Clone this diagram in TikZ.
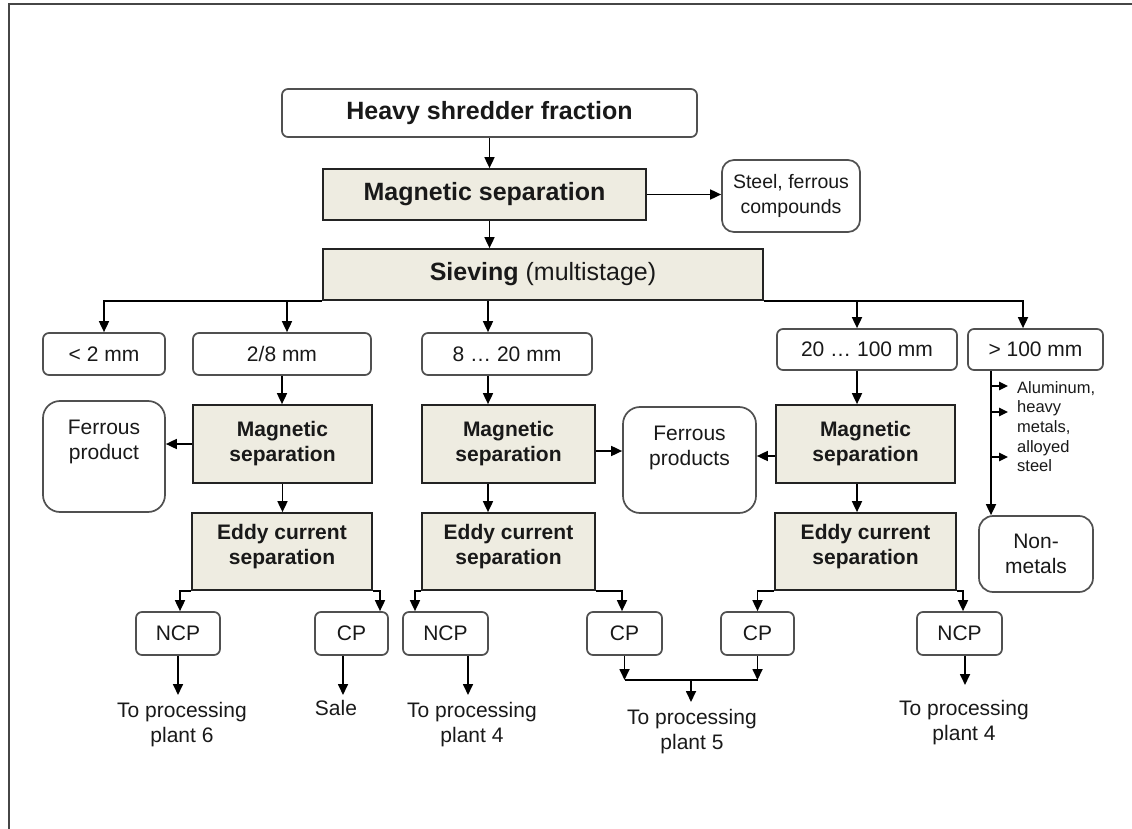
\documentclass[tikz,border=0pt]{standalone}
\usepackage{fontspec}
\setmainfont{Liberation Sans}
\usetikzlibrary{arrows.meta}
\definecolor{panel}{RGB}{238,236,225}
\definecolor{boxline}{RGB}{35,35,35}
\definecolor{roundline}{RGB}{80,80,80}
\definecolor{ink}{RGB}{25,25,25}
\definecolor{framegray}{RGB}{70,70,70}

\begin{document}
\begin{tikzpicture}[x=1pt,y=-1pt,
  rbox/.style={draw=roundline, line width=1.7pt, rounded corners=6pt, fill=white,
               inner sep=0pt, text=ink, align=center},
  pbox/.style={draw=boxline, line width=1.7pt, fill=panel, inner sep=0pt,
               text=ink, align=center},
  bigb/.style={font=\fontsize{25}{29}\selectfont\bfseries},
  med/.style={font=\fontsize{21}{25}\selectfont},
  medb/.style={font=\fontsize{21}{25}\selectfont\bfseries},
  small/.style={font=\fontsize{16.5}{19.7}\selectfont},
  wh/.style n args={2}{minimum width=#1pt, minimum height=#2pt},
  flow/.style={draw=black, line width=1.7pt, -{Triangle[length=11pt,width=10pt]}},
  plain/.style={draw=black, line width=1.7pt},
  flowsm/.style={draw=black, line width=1.5pt, -{Triangle[length=9pt,width=8.5pt]}},
  note/.style={inner sep=0pt, text=ink, align=center},
]
\useasboundingbox (0,0) rectangle (1132,829);

% page frame (top and left edges)
\draw[framegray, line width=1.5pt] (9,829) -- (9,4) -- (1132,4);

% main line
\node[rbox, bigb, wh={415}{48}] (heavy) at (489.5,113) {Heavy shredder fraction};
\node[pbox, bigb, wh={323}{51}] (magA) at (484.5,194.5) {Magnetic separation};
\node[rbox, wh={138}{72}, rounded corners=12pt, font=\fontsize{19.5}{25}\selectfont] (steel) at (791,196) {Steel, ferrous\\compounds};
\node[pbox, wh={440}{51}, font=\fontsize{25}{29}\selectfont] (sieve) at (543,274.5) {\textbf{Sieving} (multistage)};

% size classes
\node[rbox, med, wh={122}{42}] (lt2) at (104,354) {< 2 mm};
\node[rbox, med, wh={178}{42}] (c28) at (282,354) {2/8 mm};
\node[rbox, med, wh={170}{42}] (c820) at (507,354) {8 … 20 mm};
\node[rbox, med, wh={180}{41}] (c20) at (867,349.5) {20 … 100 mm};
\node[rbox, med, wh={135}{41}] (c100) at (1035.5,349.5) {> 100 mm};

% magnetic stage
\node[pbox, medb, wh={179}{78}] (mag1) at (282.5,444) {Magnetic\\separation};
\node[pbox, medb, wh={173}{78}] (mag2) at (508.5,444) {Magnetic\\separation};
\node[pbox, medb, wh={179}{78}] (mag3) at (865.5,444) {Magnetic\\separation};

\node[rbox, wh={122}{111}, rounded corners=17pt] (fe1) at (104,456.5) {};
\node[note, med, anchor=north] (fe1t) at (104,419.5) {Ferrous\\product};
\node[rbox, wh={133}{106}, rounded corners=17pt] (fe2) at (689.5,460) {};
\node[note, med, anchor=north] (fe2t) at (689.5,425.5) {Ferrous\\products};

% eddy current stage
\node[pbox, medb, wh={180}{77}] (ed1) at (282,551.5) {Eddy current\\separation\\[-10pt]};
\node[pbox, medb, wh={173}{77}] (ed2) at (508.5,551.5) {Eddy current\\separation\\[-10pt]};
\node[pbox, medb, wh={181}{77}] (ed3) at (865.5,551.5) {Eddy current\\separation\\[-10pt]};

\node[rbox, med, wh={114}{76}, rounded corners=14pt] (nonmet) at (1036,554) {Non-\\metals};
\node[note, small, align=left, anchor=north west] (metals) at (1017,381) {Aluminum,\\heavy\\metals,\\alloyed\\steel};

% products
\node[rbox, med, wh={84}{43}] (ncp1) at (178,633.5) {NCP};
\node[rbox, med, wh={73}{43}] (cp1) at (351.5,633.5) {CP};
\node[rbox, med, wh={85}{43}] (ncp2) at (445.5,633.5) {NCP};
\node[rbox, med, wh={75}{43}] (cp2) at (624.5,633.5) {CP};
\node[rbox, med, wh={73}{43}] (cp3) at (757.5,633.5) {CP};
\node[rbox, med, wh={85}{43}] (ncp3) at (959.5,633.5) {NCP};

\node[note, med, anchor=north] (out1) at (182,702) {To processing\\plant 6};
\node[note, med, anchor=north] (sale) at (336,700.5) {Sale};
\node[note, med, anchor=north] (out2) at (472,702) {To processing\\plant 4};
\node[note, med, anchor=north] (out3) at (692,709.5) {To processing\\plant 5};
\node[note, med, anchor=north] (out4) at (964,700.5) {To processing\\plant 4};

% --- connectors ---
\draw[flow] (heavy.south) -- (heavy.south |- magA.north);
\draw[flow] (magA.south -| heavy.south) -- (heavy.south |- sieve.north);
\draw[flow] (magA.east) -- (magA.east -| steel.west);

% sieve outputs
\coordinate (k1) at (lt2.north);
\coordinate (k2) at ([xshift=5pt]c28.north);
\coordinate (k3) at ([xshift=-19pt]c820.north);
\coordinate (k4) at ([xshift=-10pt]c20.north);
\coordinate (k5) at ([xshift=-12.5pt]c100.north);
\draw[flow] (sieve.south west) -| (k1);
\draw[flow] (sieve.south east) -| (k5);
\draw[flow] (k2 |- sieve.south) -- (k2);
\draw[flow] (k3 |- sieve.south) -- (k3);
\draw[flow] (k4 |- sieve.south) -- (k4);

% down the three lines
\draw[flow] (c28) -- (c28 |- mag1.north);
\draw[flow] (mag1) -- (mag1 |- ed1.north);
\draw[flow] (k3 |- c820.south) -- (k3 |- mag2.north);
\draw[flow] (k3 |- mag2.south) -- (k3 |- ed2.north);
\draw[flow] (k4 |- c20.south) -- (k4 |- mag3.north);
\draw[flow] (k4 |- mag3.south) -- (k4 |- ed3.north);

% ferrous outputs
\draw[flow] (mag1.west) -- (mag1.west -| fe1.east);
\draw[flow] ([yshift=-7pt]mag2.east) -- ([yshift=-7pt]mag2.east -| fe2.west);
\draw[flow] ([yshift=-12pt]mag3.west) -- ([yshift=-12pt]mag3.west -| fe2.east);

% > 100 mm branch
\coordinate (v) at ([xshift=-44.5pt]c100.south);
\draw[flow] (v) -- (v |- nonmet.north);
\coordinate (a1) at (1008,386);
\coordinate (a2) at (1008,412);
\coordinate (a3) at (1008,457);
\draw[flowsm] (v |- a1) -- (a1);
\draw[flowsm] (v |- a2) -- (a2);
\draw[flowsm] (v |- a3) -- (a3);

% eddy current outputs
\draw[flow] (ed1.south west) -| ([xshift=2pt]ncp1.north);
\draw[flow] (ed1.south east) -| ([xshift=28.5pt]cp1.north);
\draw[flow] (ed2.south west) -| ([xshift=-30.5pt]ncp2.north);
\draw[flow] (ed2.south east) -| ([xshift=-2.5pt]cp2.north);
\draw[flow] (ed3.south west) -| (cp3.north);
\draw[flow] (ed3.south east) -| ([xshift=3.5pt]ncp3.north);

% destinations
\draw[flow, shorten >=7pt] (ncp1) -- (ncp1 |- out1.north);
\coordinate (cp1o) at ([xshift=-8.5pt]cp1.south);
\draw[flow, shorten >=5.5pt] (cp1o) -- (cp1o |- sale.north);
\coordinate (ncp2o) at ([xshift=22.5pt]ncp2.south);
\draw[flow, shorten >=7pt] (ncp2o) -- (ncp2o |- out2.north);
\coordinate (ncp3o) at ([xshift=5.5pt]ncp3.south);
\draw[flow, shorten >=15.5pt] (ncp3o) -- (ncp3o |- out4.north);

\coordinate (mid) at (691,680);
\draw[flow] (cp2.south) -- (cp2.south |- mid);
\draw[flow] (cp3.south) -- (cp3.south |- mid);
\draw[plain] (cp2.south |- mid) -- (cp3.south |- mid);
\draw[flow, shorten >=7.5pt] (mid) -- (mid |- out3.north);
\end{tikzpicture}
\end{document}
